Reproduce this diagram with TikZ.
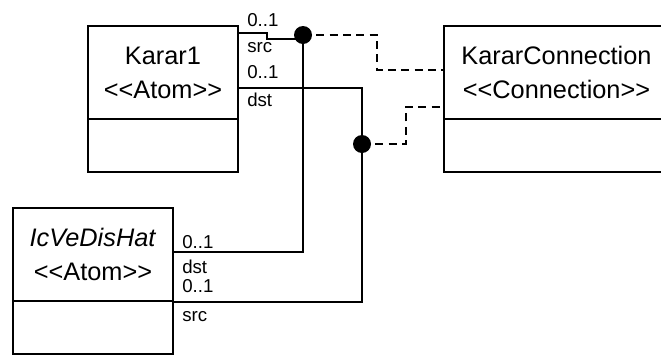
\documentclass[tikz,border=0pt]{standalone}
\usepackage{fontspec}
\setmainfont{Liberation Sans}
\usetikzlibrary{positioning}
\tikzset{
    every picture/.style={line join=miter},
    classhead/.style={draw=black,line width=1.5pt,minimum height=69.75pt,
      inner sep=0pt,outer sep=0pt,align=center,
      font=\fontsize{19}{25.5}\selectfont},
    classbody/.style={draw=black,line width=1.5pt,minimum height=39.75pt,
      inner sep=0pt,outer sep=0pt},
    assoc/.style={draw=black,line width=1.3pt},
    link/.style={assoc,dash pattern=on 6pt off 4pt},
    junction/.style={circle,fill=black,minimum size=13.5pt,inner sep=0pt},
    rolelabel/.style={font=\fontsize{14}{16}\selectfont,inner sep=0pt,anchor=west}
}
\begin{document}
\begin{tikzpicture}[x=0.75pt,y=-0.75pt]
  \useasboundingbox (0,0) rectangle (661,354);
  \clip (0,0) rectangle (661,354);
  % classes
  \node[classhead,minimum width=112.5pt,anchor=north west] (k1head) at (88,26)
    {Karar1\\<{}<Atom>{}>};
  \node[classbody,minimum width=112.5pt,anchor=north] (k1body) at (k1head.south) {};
  \node[classhead,minimum width=120pt,anchor=north west] (ichead) at (13,208)
    {\textit{IcVeDisHat}\\<{}<Atom>{}>};
  \node[classbody,minimum width=120pt,anchor=north] (icbody) at (ichead.south) {};
  \node[classhead,minimum width=168.75pt,anchor=north west] (kchead) at (444,26)
    {KararConnection\\<{}<Connection>{}>};
  \node[classbody,minimum width=168.75pt,anchor=north] (kcbody) at (kchead.south) {};
  % connector ends
  \coordinate (k1src) at (238,33);
  \coordinate (k1dst) at (238,88);
  \coordinate (icdst) at (173,252);
  \coordinate (icsrc) at (173,302);
  \coordinate (kcin1) at (444,70);
  \coordinate (kcin2) at (444,107);
  \coordinate (j1) at (303,35);
  \coordinate (j2) at (362,144);
  % connectors
  \draw[assoc] (k1src) -- ++(29,0) -- ++(0,6) -| (j1);
  \draw[assoc] (j1) |- (icdst);
  \draw[assoc] (k1dst) -| (j2) |- (icsrc);
  \draw[link] (j1) -- ++(74,0) |- (kcin1);
  \draw[link] (j2) -- ++(44,0) |- (kcin2);
  \node[junction] (dot1) at (j1) {};
  \node[junction] (dot2) at (j2) {};
  % role labels
  \node[rolelabel] (k1srcmult) at (247,20) {0..1};
  \node[rolelabel] (k1srcrole) at (247,48) {src};
  \node[rolelabel] (k1dstmult) at (247,72) {0..1};
  \node[rolelabel] (k1dstrole) at (247,100) {dst};
  \node[rolelabel] (icdstmult) at (182,242) {0..1};
  \node[rolelabel] (icdstrole) at (182,267) {dst};
  \node[rolelabel] (icsrcmult) at (182,286) {0..1};
  \node[rolelabel] (icsrcrole) at (182,317) {src};
\end{tikzpicture}
\end{document}
